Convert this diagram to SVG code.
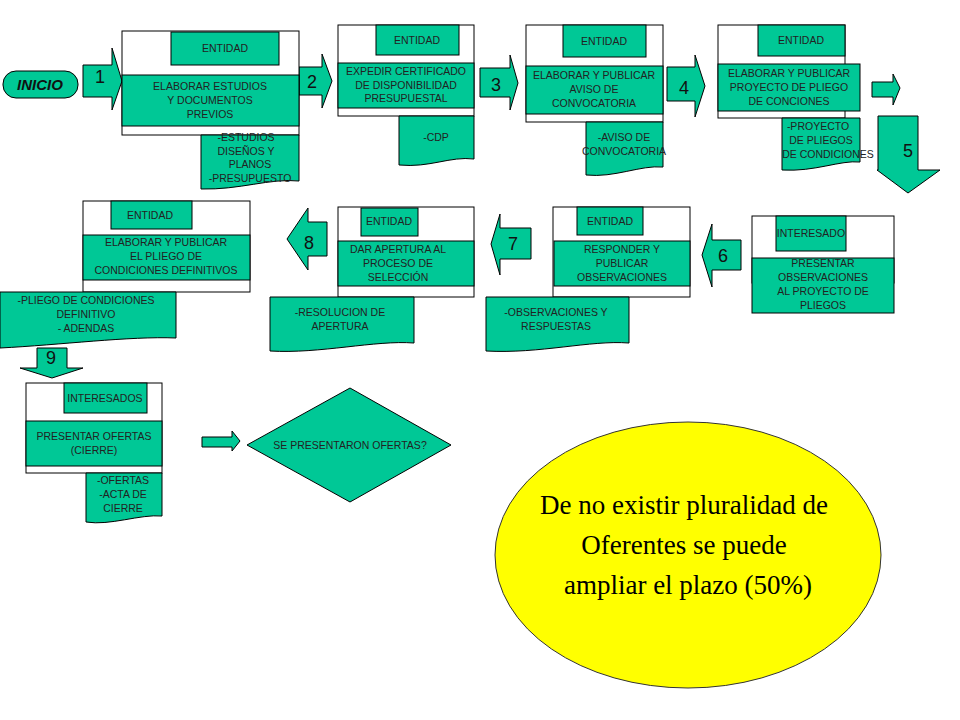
<svg xmlns="http://www.w3.org/2000/svg" width="960" height="720" viewBox="0 0 960 720">
<style>
.g{fill:#00C896;stroke:#000;stroke-width:1}
.o{fill:#fff;stroke:#000;stroke-width:1}
text{font-family:"Liberation Sans",Arial,sans-serif;font-size:10.5px;fill:#222;text-anchor:middle}
.n{font-size:18px;fill:#111}
</style>
<rect width="960" height="720" fill="#fff"/>
<g id="inicio"><rect x="3" y="71" width="75" height="27" rx="13" class="g"/><text x="40" y="90" style="font-size:15px;font-weight:bold;font-style:italic;fill:#111">INICIO</text></g>

<g id="connectors">
<path class="g" d="M83,65 H112 V48 L122,81 L112,110 V97 H83 Z"/><text class="n" x="100" y="83">1</text>
<path class="g" d="M299,67 H322 V54 L332,81 L322,108 V95 H299 Z"/><text class="n" x="312" y="88">2</text>
<path class="g" d="M480,68 H510 V55 L518,83 L510,110 V97 H480 Z"/><text class="n" x="496" y="91">3</text>
<path class="g" d="M667,67 H695 V55 L705,86 L695,117 V101 H667 Z"/><text class="n" x="684" y="94">4</text>
<path class="g" d="M872,82 H893 V74 L900,88 L893,105 V97 H872 Z"/>
<path class="g" d="M878,116 H918 V170 H940 L908,193 L877,170 H878 Z"/><text class="n" x="908" y="157">5</text>
<path class="g" d="M702,255 L712,224 V240 H741 V270 H712 V287 Z"/><text class="n" x="723" y="262">6</text>
<path class="g" d="M491,244 L500,214 V228 H531 V259 H500 V275 Z"/><text class="n" x="513" y="250">7</text>
<path class="g" d="M287,239 L308,208 V222 H327 V256 H308 V270 Z"/><text class="n" x="309" y="249">8</text>
<path class="g" d="M37,348 H67 V368 H83 L52,378 L20,368 H37 Z"/><text class="n" x="51" y="364">9</text>
<path class="g" d="M202,437 H232 V431 L240,441 L232,451 V447 H202 Z"/>
</g>

<g id="n1"><rect x="122" y="31" width="177" height="104" class="o"/><rect x="171" y="32" width="108" height="33" class="g"/><text x="225" y="52">ENTIDAD</text>
<rect x="122" y="75" width="177" height="51" class="g"/><text x="210" y="90">ELABORAR ESTUDIOS</text><text x="210" y="104">Y DOCUMENTOS</text><text x="210" y="118">PREVIOS</text>
<path class="g" d="M201,135 H299 V181 C270,178 240,190 201,189 Z"/><text x="246" y="141">-ESTUDIOS</text><text x="246" y="155">DISEÑOS Y</text><text x="250" y="168">PLANOS</text><text x="250" y="182">-PRESUPUESTO</text></g>

<g id="n2"><rect x="338" y="25" width="136" height="91" class="o"/><rect x="376" y="25" width="83" height="30" class="g"/><text x="417" y="44">ENTIDAD</text>
<rect x="338" y="63" width="136" height="45" class="g"/><text x="406" y="75">EXPEDIR    CERTIFICADO</text><text x="406" y="89">DE DISPONIBILIDAD</text><text x="406" y="102">PRESUPUESTAL</text>
<path class="g" d="M399,116 H474 V159 C450,156 430,168 399,165 Z"/><text x="436" y="141">-CDP</text></g>

<g id="n3"><rect x="526" y="25" width="137" height="97" class="o"/><rect x="563" y="25" width="83" height="32" class="g"/><text x="604" y="45">ENTIDAD</text>
<rect x="526" y="66" width="137" height="48" class="g"/><text x="594" y="79">ELABORAR Y PUBLICAR</text><text x="594" y="93">AVISO DE</text><text x="594" y="107">CONVOCATORIA</text>
<path class="g" d="M586,122 H663 V167 C640,165 615,178 586,175 Z"/><text x="624" y="141">-AVISO DE</text><text x="624" y="155">CONVOCATORIA</text></g>

<g id="n4"><rect x="718" y="25" width="127" height="93" class="o"/><rect x="758" y="25" width="87" height="31" class="g"/><text x="801" y="44">ENTIDAD</text>
<rect x="718" y="64" width="142" height="47" class="g"/><text x="789" y="77">ELABORAR Y PUBLICAR</text><text x="789" y="91">PROYECTO  DE PLIEGO</text><text x="789" y="105">DE CONCIONES</text>
<path class="g" d="M782,118 H860 V162 C840,160 815,172 782,170 Z"/><text x="818" y="130">-PROYECTO</text><text x="821" y="144">DE PLIEGOS</text><text x="828" y="158">DE CONDICIONES</text></g>

<g id="n5"><rect x="752" y="216" width="142" height="67" class="o"/><rect x="776" y="216" width="70" height="35" class="g"/><text x="811" y="237">INTERESADO</text>
<rect x="752" y="258" width="142" height="55" class="g"/><text x="823" y="267">PRESENTAR</text><text x="823" y="281">OBSERVACIONES</text><text x="823" y="295">AL PROYECTO  DE</text><text x="823" y="309">PLIEGOS</text></g>

<g id="n6"><rect x="553" y="207" width="137" height="90" class="o"/><rect x="577" y="207" width="66" height="28" class="g"/><text x="610" y="225">ENTIDAD</text>
<rect x="554" y="241" width="136" height="45" class="g"/><text x="622" y="253">RESPONDER Y</text><text x="622" y="267">PUBLICAR</text><text x="622" y="281">OBSERVACIONES</text>
<path class="g" d="M486,297 H629 V343 C590,340 540,354 486,351 Z"/><text x="556" y="316">-OBSERVACIONES Y</text><text x="556" y="330">RESPUESTAS</text></g>

<g id="n7"><rect x="338" y="207" width="136" height="90" class="o"/><rect x="361" y="208" width="57" height="28" class="g"/><text x="389" y="225">ENTIDAD</text>
<rect x="338" y="241" width="136" height="45" class="g"/><text x="398" y="253">DAR APERTURA AL</text><text x="398" y="267">PROCESO DE</text><text x="398" y="281">SELECCIÓN</text>
<path class="g" d="M270,297 H414 V343 C375,340 320,354 270,351 Z"/><text x="340" y="316">-RESOLUCION DE</text><text x="340" y="330">APERTURA</text></g>

<g id="n8"><rect x="83" y="201" width="167" height="91" class="o"/><rect x="111" y="201" width="81" height="28" class="g"/><text x="150" y="219">ENTIDAD</text>
<rect x="83" y="235" width="167" height="45" class="g"/><text x="166" y="246">ELABORAR Y PUBLICAR</text><text x="166" y="260">EL PLIEGO DE</text><text x="166" y="274">CONDICIONES DEFINITIVOS</text>
<path class="g" d="M0,292 H176 V338 C130,336 60,345 0,348 Z"/><text x="86" y="304">-PLIEGO DE CONDICIONES</text><text x="86" y="318">DEFINITIVO</text><text x="86" y="332">- ADENDAS</text></g>

<g id="n9"><rect x="26" y="383" width="136" height="90" class="o"/><rect x="64" y="383" width="83" height="30" class="g"/><text x="105" y="402">INTERESADOS</text>
<rect x="26" y="421" width="136" height="45" class="g"/><text x="94" y="440">PRESENTAR OFERTAS</text><text x="94" y="454">(CIERRE)</text>
<path class="g" d="M86,473 H162 V516 C140,514 110,526 86,522 Z"/><text x="123" y="484">-OFERTAS</text><text x="123" y="498">-ACTA DE</text><text x="123" y="512">CIERRE</text></g>

<g id="decision"><path class="g" d="M350,388 L451,445 L350,502 L247,445 Z"/><text x="350" y="449">SE PRESENTARON OFERTAS?</text></g>

<g id="nota"><ellipse cx="688" cy="555" rx="193" ry="133" fill="#FFFF00" stroke="#333" stroke-width="1"/>
<text x="684" y="514" style="font-family:'Liberation Serif','Times New Roman',serif;font-size:27px;fill:#000">De no existir pluralidad de</text>
<text x="684" y="554" style="font-family:'Liberation Serif','Times New Roman',serif;font-size:27px;fill:#000">Oferentes se puede</text>
<text x="688" y="594" style="font-family:'Liberation Serif','Times New Roman',serif;font-size:27px;fill:#000">ampliar el plazo (50%)</text></g>
</svg>
